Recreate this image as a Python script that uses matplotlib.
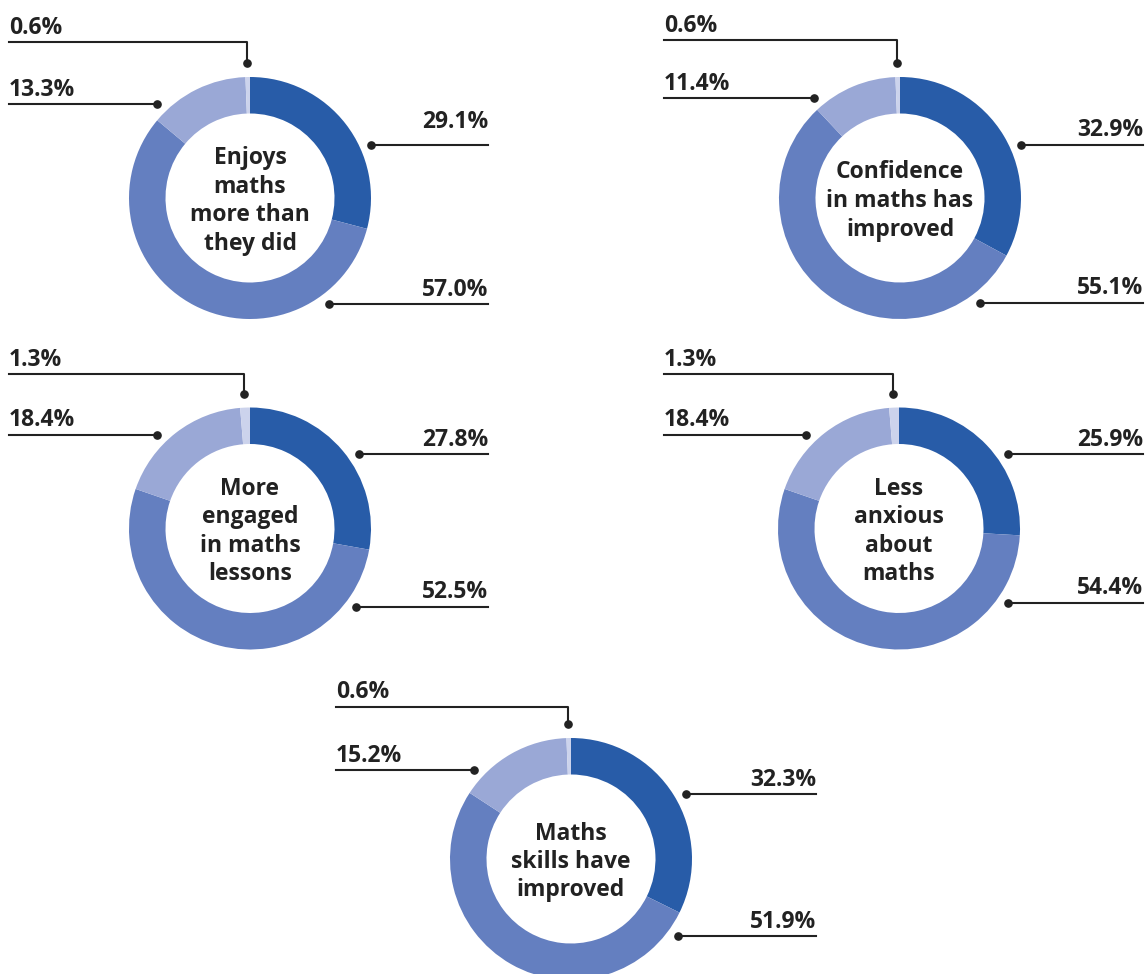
import numpy as np
import matplotlib.pyplot as plt

# Survey outcomes: share of responses per level, clockwise from 12 o'clock
titles = [
    "Enjoys\nmaths\nmore than\nthey did",
    "Confidence\nin maths has\nimproved",
    "More\nengaged\nin maths\nlessons",
    "Less\nanxious\nabout\nmaths",
    "Maths\nskills have\nimproved",
]
level_1 = [29.1, 32.9, 27.8, 25.9, 32.3]
level_2 = [57.0, 55.1, 52.5, 54.4, 51.9]
level_3 = [13.3, 11.4, 18.4, 18.4, 15.2]
level_4 = [0.6, 0.6, 1.3, 1.3, 0.6]

colors = ["#285CA8", "#647FC0", "#9AA8D6", "#CCD3EC"]
ink = "#222222"
FONT = "Open Sans"
WEIGHT = "bold"

# ---- layout (pixel space, y measured downward) ----
W, H = 1146, 974
centers = [(250, 198), (900, 198), (250, 528.5), (899, 528.5), (571, 859)]
left_x = [9, 664, 9, 664, 336]
right_x = [488, 1143, 488, 1143, 816]
# vertical offsets of the leader lines from the donut centre for
# level_1, level_2, level_3 and the horizontal run of level_4
leader_dy = [
    (-53, 106, -94, -156),
    (-53, 105, -100, -158),
    (-74.5, 78.5, -93.5, -154.5),
    (-74.5, 74.5, -93.5, -154.5),
    (-65, 77, -89, -152),
]
right_gap = [17, 8.5, 8.5, 8.5, 8.5]
R_OUT, RING = 121, 36.5
R_DOT, R_DOT_TOP = 132, 135

fig = plt.figure(figsize=(W / 100, H / 100), dpi=100)
ax = fig.add_axes([0, 0, 1, 1])


def dot(x, y):
    ax.plot([x], [y], "o", color=ink, markersize=5.2, zorder=5)


def label(x, y, txt, ha):
    ax.text(x, y, txt, ha=ha, va="baseline", fontsize=16.5, fontweight=WEIGHT,
            color=ink, family=FONT)


for i in range(len(titles)):
    vals = [level_1[i], level_2[i], level_3[i], level_4[i]]
    cx, cy = centers[i]
    Y = H - cy
    ax.pie(vals, colors=colors, startangle=90, counterclock=False,
           radius=R_OUT, center=(cx, Y),
           wedgeprops=dict(width=RING, linewidth=0))
    ax.text(cx, Y - 3, titles[i], ha="center", va="center", ma="center",
            fontsize=16.5, fontweight=WEIGHT, color=ink, family=FONT,
            linespacing=1.25)

    dy1, dy2, dy3, dy4 = leader_dy[i]
    # right-hand leaders (level_1, level_2)
    for v, dy, gap in ((vals[0], dy1, right_gap[i]), (vals[1], dy2, 8.5)):
        x0 = cx + np.sqrt(R_DOT ** 2 - dy ** 2)
        yl = Y - dy
        ax.plot([x0, right_x[i]], [yl, yl], color=ink, lw=1.5)
        dot(x0, yl)
        label(right_x[i], yl + gap, f"{v:.1f}%", "right")
    # left-hand leader (level_3)
    x0 = cx - np.sqrt(R_DOT ** 2 - dy3 ** 2)
    yl = Y - dy3
    ax.plot([left_x[i], x0], [yl, yl], color=ink, lw=1.5)
    dot(x0, yl)
    label(left_x[i], yl + 8.5, f"{vals[2]:.1f}%", "left")
    # elbow leader for the thin slice at the top (level_4)
    mid = np.deg2rad(90 + (vals[3] / 2) / 100 * 360)
    xd, yd = cx + R_DOT_TOP * np.cos(mid), Y + R_DOT_TOP * np.sin(mid)
    yl = Y - dy4
    ax.plot([left_x[i], xd, xd], [yl, yl, yd], color=ink, lw=1.5)
    dot(xd, yd)
    label(left_x[i], yl + 8.5, f"{vals[3]:.1f}%", "left")

ax.set_xlim(0, W)
ax.set_ylim(0, H)
ax.set_aspect("equal")
ax.axis("off")
fig.savefig("out.png", dpi=100, facecolor="white")
